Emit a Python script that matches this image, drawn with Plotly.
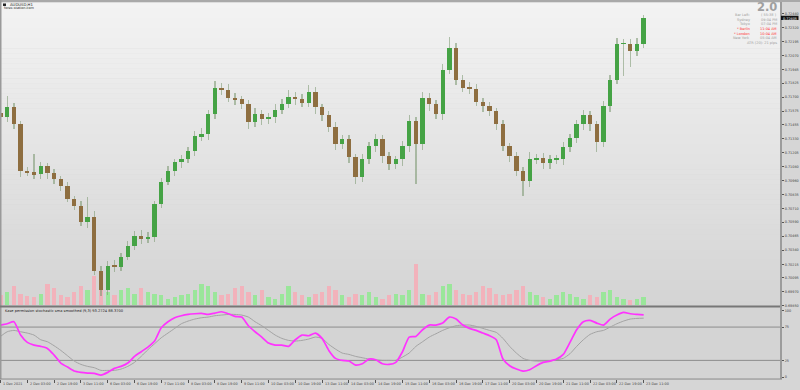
import plotly.graph_objects as go

W, H = 800, 390

# ---------------- data ----------------
symbol = "AUDUSD,H1"
site = "forex-station.com"
date_labels = ["1 Dec 2021", "2 Dec 03:00", "2 Dec 19:00", "3 Dec 11:00", "6 Dec 03:00",
               "6 Dec 19:00", "7 Dec 11:00", "8 Dec 03:00", "8 Dec 19:00", "9 Dec 11:00",
               "10 Dec 03:00", "10 Dec 19:00", "13 Dec 11:00", "14 Dec 03:00", "14 Dec 19:00",
               "15 Dec 11:00", "16 Dec 03:00", "16 Dec 19:00", "17 Dec 11:00", "20 Dec 03:00",
               "20 Dec 19:00", "21 Dec 11:00", "22 Dec 03:00", "22 Dec 19:00", "23 Dec 11:00"]
date_tick_step = 16          # H1 bars between date labels
bar_step = 4                 # H1 bars per drawn candle

price_ticks = [0.72440, 0.72320, 0.72195, 0.72070, 0.71945, 0.71825, 0.71700, 0.71575,
               0.71455, 0.71330, 0.71205, 0.71080, 0.70960, 0.70835, 0.70710, 0.70590,
               0.70465, 0.70340, 0.70215, 0.70095, 0.69970, 0.69850]

first_open = 0.71560
closes = [0.71521, 0.71609, 0.71459, 0.71043, 0.71034, 0.71017, 0.71087, 0.71026, 0.70973, 0.70911,
          0.70796, 0.70734, 0.70592, 0.70637, 0.70159, 0.69983, 0.70203, 0.70194, 0.70283, 0.70380,
          0.70469, 0.70442, 0.70460, 0.70752, 0.70946, 0.71043, 0.71123, 0.71149, 0.71220, 0.71353,
          0.71370, 0.71547, 0.71786, 0.71768, 0.71697, 0.71680, 0.71636, 0.71476, 0.71547, 0.71503,
          0.71521, 0.71591, 0.71644, 0.71706, 0.71680, 0.71653, 0.71750, 0.71609, 0.71538, 0.71432,
          0.71282, 0.71326, 0.71167, 0.70990, 0.71149, 0.71264, 0.71326, 0.71176, 0.71105, 0.71149,
          0.71264, 0.71485, 0.71282, 0.71697, 0.71636, 0.71547, 0.71945, 0.72139, 0.71857, 0.71786,
          0.71777, 0.71662, 0.71618, 0.71574, 0.71459, 0.71264, 0.71176, 0.71043, 0.70955, 0.71149,
          0.71158, 0.71114, 0.71149, 0.71149, 0.71255, 0.71335, 0.71459, 0.71538, 0.71459, 0.71300,
          0.71618, 0.71857, 0.72175, 0.72175, 0.72113, 0.72175, 0.72405]
upper_wick_pips = [4, 10, 4, 3, 4, 16, 4, 3, 4, 3,
                   4, 3, 4, 18, 5, 4, 4, 5, 3, 4,
                   4, 5, 4, 3, 4, 5, 3, 4, 4, 5,
                   6, 4, 6, 4, 5, 4, 3, 4, 6, 4,
                   4, 5, 4, 6, 4, 5, 6, 4, 3, 4,
                   5, 4, 4, 3, 5, 4, 5, 4, 4, 3,
                   5, 6, 4, 5, 4, 4, 5, 10, 4, 4,
                   5, 4, 3, 4, 3, 4, 3, 4, 4, 6,
                   4, 5, 4, 4, 5, 4, 4, 5, 4, 3,
                   5, 4, 5, 4, 4, 5, 3]
lower_wick_pips = [5, 4, 4, 5, 3, 4, 4, 5, 4, 4,
                   3, 4, 4, 5, 4, 5, 4, 5, 4, 3,
                   4, 5, 4, 5, 4, 3, 4, 5, 3, 4,
                   4, 5, 4, 5, 4, 5, 4, 6, 4, 5,
                   4, 5, 4, 4, 5, 4, 4, 6, 5, 4,
                   5, 4, 5, 6, 4, 4, 5, 6, 5, 4,
                   6, 5, 35, 5, 6, 4, 5, 4, 5, 4,
                   5, 4, 5, 4, 5, 4, 5, 4, 13, 5,
                   4, 5, 5, 4, 5, 4, 4, 5, 6, 9,
                   4, 5, 4, 29, 14, 5, 4]
tick_volumes = [1000, 1400, 2000, 1200, 900, 800, 1200, 2200, 1800, 1000,
                800, 1400, 2000, 1600, 3000, 2600, 1400, 1000, 1600, 1800,
                1200, 1800, 1400, 1200, 1000, 600, 800, 1000, 1200, 1600,
                2200, 2000, 1400, 1000, 1200, 1800, 2000, 1400, 1000, 1600,
                800, 600, 1200, 2000, 1400, 1000, 800, 1200, 1400, 2000,
                1600, 1000, 800, 1200, 1000, 1400, 800, 600, 1000, 1200,
                1000, 1600, 4200, 1200, 1000, 1400, 2000, 2200, 1600, 1200,
                1000, 1400, 2000, 1800, 1200, 1000, 1200, 1600, 2000, 1400,
                1000, 800, 600, 1000, 1400, 1200, 800, 600, 1000, 800,
                1400, 1600, 800, 600, 500, 600, 800]

kase_fast = [78, 80, 83, 63, 52, 48, 46, 43, 33, 21,
             15, 9, 7, 6, 5.5, 3, 7, 13, 16, 21,
             31, 38, 45, 54, 74, 83, 89, 92, 94, 95,
             95.5, 94, 96, 98, 95, 91, 90, 77, 68, 60,
             51, 48, 48, 46, 56, 63, 62, 66, 58, 40,
             28, 25, 24, 18, 20, 27, 26, 20, 19, 22,
             38, 60, 61, 71, 78, 78, 81, 90, 87, 78,
             73, 70, 66, 62, 56, 27, 17, 12, 9, 11,
             17, 22, 24, 27, 34, 52, 71, 83, 85, 81,
             78, 87, 93, 97, 95, 94, 93.2724]
kase_slow = [61, 68, 70, 68, 66, 63, 56, 53, 47, 40,
             32, 24, 19, 16, 14, 10, 10, 10, 12, 16,
             22, 31, 41, 50, 59, 66, 73, 80, 84, 87,
             89, 90, 92, 93, 94, 94, 93, 90, 83, 77,
             70, 63, 58, 55, 54, 55, 57, 60, 58, 49,
             42, 36, 34, 31, 29, 27, 26, 25, 25, 25,
             30, 36, 46, 53, 60, 65, 70, 74, 77, 78,
             78, 76, 73, 70, 67, 58, 46, 36, 28, 25,
             24, 24, 24, 26, 28, 35, 46, 56, 64, 68,
             70, 75, 80, 84, 87, 88, 88.37]
kase_levels = [75, 25]
kase_ticks = [100, 75, 25, 0]
indicator_name = "Kase permission stochastic sma smoothed (9,3)"

info_rows = [("Bar Left:", "( 55:38 )", "#a0a0a0"),
             ("Sydney", "09:04 PM", "#a0a0a0"),
             ("Tokyo", "07:04 PM", "#a0a0a0"),
             ("* Berlin", "11:04 AM", "#ff3333"),
             ("* London", "10:04 AM", "#ff3333"),
             ("New York", "05:04 AM", "#a0a0a0")]
atr_text = "ATR (20): 21 pips"
big_text = "2.0"

# ---------------- helpers ----------------
def py(px):
    return 1 - px / H

def pxx(px):
    return px / W

PIP = 0.0001
n = len(closes)
xs = [i * bar_step for i in range(n)]
opens = [first_open] + closes[:-1]
highs = [max(o, c) + u * PIP for o, c, u in zip(opens, closes, upper_wick_pips)]
lows = [min(o, c) - d * PIP for o, c, d in zip(opens, closes, lower_wick_pips)]

XR = [-0.3, 466.0]
XD = [0, pxx(781)]
FONT = "DejaVu Sans"
SMALL = 3.4

fig = go.Figure()

# volume (base subplot x / y)
vol_colors = ["#9ae69a" if c >= o else "#f2b2bb" for o, c in zip(opens, closes)]
fig.add_trace(go.Bar(x=xs, y=tick_volumes, width=2.6, marker=dict(color=vol_colors, line=dict(width=0)),
                     xaxis="x", yaxis="y", hoverinfo="skip", showlegend=False))

# wicks (thin bars) on price axis y3
fig.add_trace(go.Bar(x=xs, base=lows, y=[h - l for h, l in zip(highs, lows)], width=0.8,
                     marker=dict(color="rgba(120,150,110,0.55)", line=dict(width=0)),
                     xaxis="x", yaxis="y3", hoverinfo="skip", showlegend=False))
# bodies
bx_up, bb_up, bh_up, bx_dn, bb_dn, bh_dn = [], [], [], [], [], []
for x, o, c in zip(xs, opens, closes):
    if c >= o:
        bx_up.append(x); bb_up.append(o); bh_up.append(max(c - o, 0.00005))
    else:
        bx_dn.append(x); bb_dn.append(c); bh_dn.append(max(o - c, 0.00005))
fig.add_trace(go.Bar(x=bx_up, base=bb_up, y=bh_up, width=2.6,
                     marker=dict(color="#45a345", line=dict(width=0)),
                     xaxis="x", yaxis="y3", hoverinfo="skip", showlegend=False))
fig.add_trace(go.Bar(x=bx_dn, base=bb_dn, y=bh_dn, width=2.6,
                     marker=dict(color="#8e6e40", line=dict(width=0)),
                     xaxis="x", yaxis="y3", hoverinfo="skip", showlegend=False))

# indicator
fig.add_trace(go.Scatter(x=xs, y=kase_slow, mode="lines", line=dict(color="#a3a3a3", width=1, shape="spline", smoothing=0.6),
                         xaxis="x2", yaxis="y2", hoverinfo="skip", showlegend=False))
fig.add_trace(go.Scatter(x=xs, y=kase_fast, mode="lines", line=dict(color="#ff33ff", width=1.7, shape="spline", smoothing=0.6),
                         xaxis="x2", yaxis="y2", hoverinfo="skip", showlegend=False))

# ---------------- shapes ----------------
shapes = []
top_px, bot_px = 3, 307
nb = 60
c_top, c_bot = 243, 212
for i in range(nb):
    y0 = top_px + (bot_px - top_px) * i / nb
    y1 = top_px + (bot_px - top_px) * (i + 1) / nb
    g = round(c_top + (c_bot - c_top) * (i + 0.5) / nb)
    shapes.append(dict(type="rect", xref="paper", yref="paper", x0=0, x1=XD[1],
                       y0=py(y1), y1=py(y0) + 0.0005, fillcolor=f"rgb({g},{g},{g})",
                       line=dict(width=0), layer="below"))
shapes.append(dict(type="rect", xref="paper", yref="paper", x0=0, x1=XD[1], y0=py(381), y1=py(309),
                   fillcolor="#d4d4d4", line=dict(width=0), layer="below"))
shapes.append(dict(type="rect", xref="paper", yref="paper", x0=0, x1=1, y0=py(2), y1=1,
                   fillcolor="#a9a9a9", line=dict(width=0), layer="above"))
shapes.append(dict(type="rect", xref="paper", yref="paper", x0=0, x1=pxx(1.5), y0=py(381), y1=1,
                   fillcolor="#9a9a9a", line=dict(width=0), layer="above"))
shapes.append(dict(type="rect", xref="paper", yref="paper", x0=0, x1=XD[1], y0=py(309), y1=py(307),
                   fillcolor="#777777", line=dict(width=0), layer="above"))
shapes.append(dict(type="rect", xref="paper", yref="paper", x0=pxx(780), x1=pxx(782), y0=py(381), y1=py(2),
                   fillcolor="#9c9c9c", line=dict(width=0), layer="above"))
shapes.append(dict(type="line", xref="paper", yref="paper", x0=0, x1=pxx(782), y0=py(381), y1=py(381),
                   line=dict(color="#8a8a8a", width=1), layer="above"))
for lv in kase_levels:
    shapes.append(dict(type="line", xref="paper", yref="y2", x0=0, x1=XD[1], y0=lv, y1=lv,
                       line=dict(color="#8c8c8c", width=1), layer="below"))
last = closes[-1]
shapes.append(dict(type="rect", xref="paper", yref="y3", x0=pxx(781), x1=pxx(798.5),
                   y0=last - 0.00019, y1=last + 0.00019, fillcolor="#111111", line=dict(width=0), layer="above"))
shapes.append(dict(type="rect", xref="paper", yref="paper", x0=pxx(3), x1=pxx(6), y0=py(6), y1=py(3.5),
                   fillcolor="#222222", line=dict(width=0), layer="above"))

# ---------------- annotations ----------------
ann = []
for i, lab in enumerate(date_labels):
    ann.append(dict(x=i * date_tick_step, xref="x2", y=py(386), yref="paper", text=lab, showarrow=False,
                    xanchor="left", yanchor="middle", xshift=0.5,
                    font=dict(family=FONT, size=SMALL, color="#444444")))
ann.append(dict(x=pxx(798.5), y=py(18.7), xref="paper", yref="paper", text=f"{last:.5f}", showarrow=False,
                xanchor="right", yanchor="middle", font=dict(family=FONT, size=SMALL, color="#ffffff")))
ann.append(dict(x=pxx(3), y=py(312.5), xref="paper", yref="paper",
                text=f"{indicator_name} {kase_fast[-1]:.4f} {kase_slow[-1]:.4f}", showarrow=False,
                xanchor="left", yanchor="middle", font=dict(family=FONT, size=3.6, color="#222222")))
ann.append(dict(x=pxx(7.5), y=py(4.6), xref="paper", yref="paper", text=symbol, showarrow=False,
                xanchor="left", yanchor="middle", font=dict(family=FONT, size=3.8, color="#222222")))
ann.append(dict(x=pxx(2), y=py(8.5), xref="paper", yref="paper", text=site, showarrow=False,
                xanchor="left", yanchor="middle", font=dict(family=FONT, size=3.4, color="#222222")))
ann.append(dict(x=pxx(779), y=py(7), xref="paper", yref="paper", text=f"<b>{big_text}</b>", showarrow=False,
                xanchor="right", yanchor="middle", font=dict(family=FONT, size=11.5, color="#a0a0a0")))
row_y = [15.2, 19.8, 24.5, 29.1, 33.8, 38.5]
for (lab, val, col), yy in zip(info_rows, row_y):
    ann.append(dict(x=pxx(752), y=py(yy), xref="paper", yref="paper", text=lab, showarrow=False,
                    xanchor="right", yanchor="middle", font=dict(family=FONT, size=3.5, color=col)))
    ann.append(dict(x=pxx(778.5), y=py(yy), xref="paper", yref="paper", text=val, showarrow=False,
                    xanchor="right", yanchor="middle", font=dict(family=FONT, size=3.5, color=col)))
ann.append(dict(x=pxx(778.5), y=py(43.2), xref="paper", yref="paper", text=atr_text, showarrow=False,
                xanchor="right", yanchor="middle", font=dict(family=FONT, size=3.5, color="#a0a0a0")))

p_per_px = (price_ticks[0] - price_ticks[-1]) / (307 - 14)
p_top = price_ticks[0] + p_per_px * (14 - 3)
p_bot = price_ticks[-1]

fig.update_layout(
    width=W, height=H, margin=dict(l=0, r=0, t=0, b=0),
    paper_bgcolor="#d6d6d6", plot_bgcolor="rgba(0,0,0,0)",
    barmode="overlay", bargap=0, showlegend=False,
    xaxis=dict(domain=XD, range=XR, anchor="y", visible=False, fixedrange=True),
    yaxis=dict(domain=[py(307), py(3)], range=[0, 30400], visible=False, fixedrange=True),
    yaxis3=dict(overlaying="y", anchor="x", side="right", range=[p_bot, p_top],
                tickvals=price_ticks, ticktext=[f"{v:.5f}" for v in price_ticks],
                ticks="outside", ticklen=2, tickcolor="#555555", tickwidth=1,
                tickfont=dict(family=FONT, size=SMALL, color="#444444"),
                showgrid=False, zeroline=False, showline=False, fixedrange=True),
    xaxis2=dict(domain=XD, range=XR, anchor="y2",
                tickvals=[i * date_tick_step for i in range(len(date_labels))],
                showticklabels=False, ticks="outside", ticklen=3, tickcolor="#555555", tickwidth=1,
                showgrid=False, zeroline=False, showline=False, fixedrange=True),
    yaxis2=dict(domain=[py(381), py(309)], range=[-3.0, 104.5], anchor="x2", side="right",
                tickvals=kase_ticks, ticktext=[str(v) for v in kase_ticks],
                ticks="outside", ticklen=2, tickcolor="#555555", tickwidth=1,
                tickfont=dict(family=FONT, size=SMALL, color="#444444"),
                showgrid=False, zeroline=False, showline=False, fixedrange=True),
    shapes=shapes, annotations=ann,
)

fig.write_html("out.html")
